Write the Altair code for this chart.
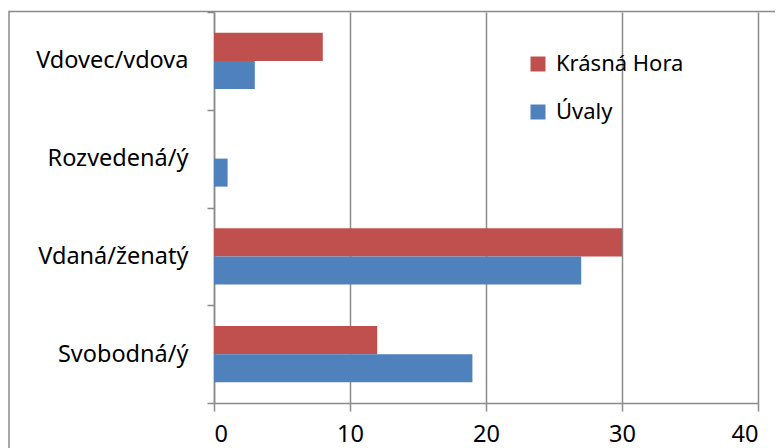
import altair as alt
import pandas as pd

categories = ["Svobodná/ý", "Vdaná/ženatý", "Rozvedená/ý", "Vdovec/vdova"]
series = ["Krásná Hora", "Úvaly"]
krasna_hora = [12, 30, 0, 8]
uvaly = [19, 27, 1, 3]
x_ticks = [0, 10, 20, 30, 40]
colors = ["#C0504D", "#4F81BD"]

rows = []
for c, k, u in zip(categories, krasna_hora, uvaly):
    rows.append({"kat": c, "serie": series[0], "hodnota": k})
    rows.append({"kat": c, "serie": series[1], "hodnota": u})
df = pd.DataFrame(rows)

y_order = list(reversed(categories))
gray = "#8a8a8a"
font = "Noto Sans"
fs = 23.5

bars = alt.Chart(df).mark_bar().encode(
    x=alt.X(
        "hodnota:Q",
        scale=alt.Scale(domain=[0, 40], nice=False),
        axis=alt.Axis(
            values=x_ticks, title=None, grid=True, tickSize=8, labelPadding=11,
            labelFontSize=fs, labelFont=font, labelColor="black",
        ),
    ),
    y=alt.Y(
        "kat:N",
        sort=y_order,
        scale=alt.Scale(paddingInner=0, paddingOuter=0),
        axis=alt.Axis(
            title=None, tickBand="extent", tickSize=7, labelPadding=19,
            labelFontSize=fs, labelFont=font, labelColor="black",
        ),
    ),
    yOffset=alt.YOffset(
        "serie:N", sort=series,
        scale=alt.Scale(paddingInner=0, paddingOuter=0.7455),
    ),
    color=alt.Color(
        "serie:N",
        sort=series,
        scale=alt.Scale(domain=series, range=colors),
        legend=alt.Legend(
            title=None, orient="none", legendX=313, legendY=41,
            symbolType="square", symbolSize=225, symbolStrokeWidth=0,
            labelFontSize=22, labelFont=font, labelColor="black",
            rowPadding=26, labelOffset=7,
        ),
    ),
)

border = alt.Chart(pd.DataFrame({"b": [0]})).mark_rect(
    fillOpacity=0, stroke=gray, strokeWidth=1.5
).encode(
    x=alt.value(-205), x2=alt.value(640), y=alt.value(-0.5), y2=alt.value(480)
)

chart = alt.layer(border, bars).properties(
    width=544,
    height=391,
    autosize=alt.AutoSizeParams(type="none"),
    padding={"left": 206, "top": 4, "right": 17, "bottom": 45},
).configure_view(stroke=None).configure_axis(
    domainColor=gray, domainWidth=1.5, tickColor=gray, tickWidth=1.5,
    gridColor=gray, gridWidth=1.5,
)

chart.save("out.html", embed_options={"renderer": "svg", "actions": False})
